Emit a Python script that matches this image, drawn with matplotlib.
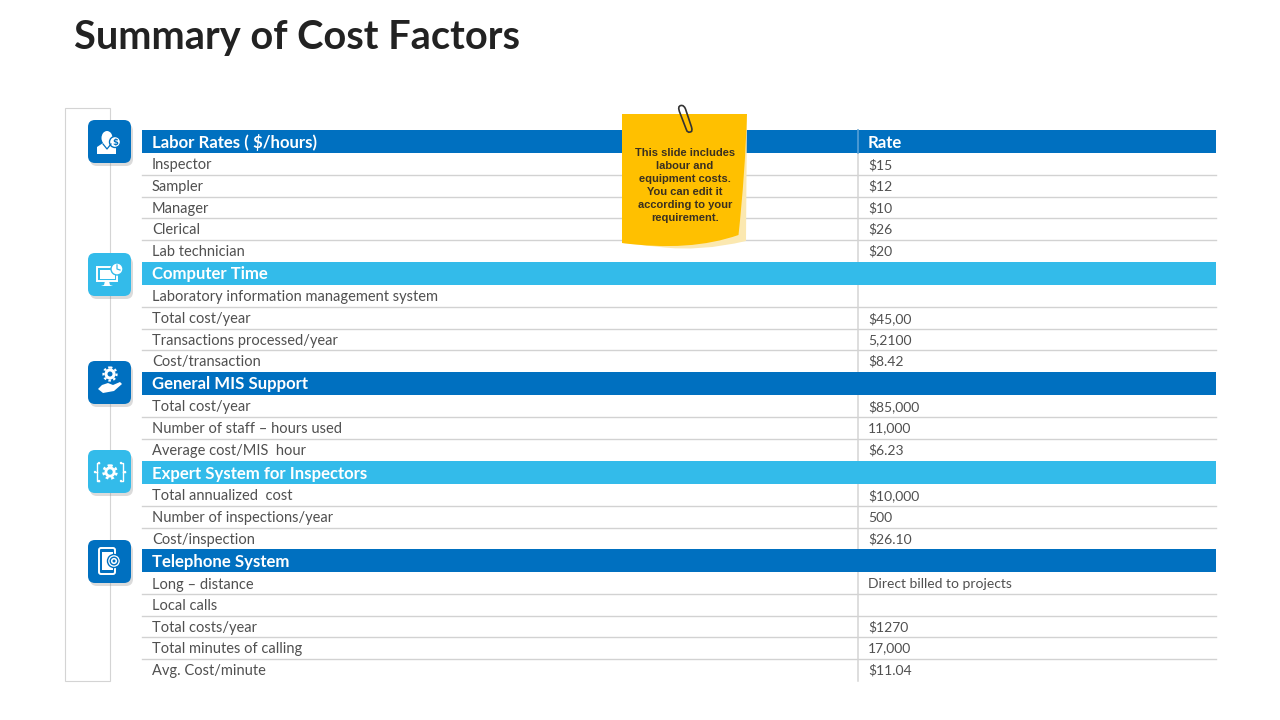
import matplotlib
matplotlib.use("Agg")
import matplotlib.pyplot as plt
from matplotlib.patches import FancyBboxPatch, Rectangle, Polygon, Circle, Ellipse, Wedge, PathPatch
from matplotlib.path import Path

title = "Summary of Cost Factors"
note = "This slide includes\nlabour and\nequipment costs.\nYou can edit it\naccording to your\nrequirement."

section_names = ["Labor Rates ( $/hours)", "Computer Time", "General MIS Support",
                 "Expert System for Inspectors", "Telephone System"]
labor_items = ["Inspector", "Sampler", "Manager", "Clerical", "Lab technician"]
labor_rates = ["$15", "$12", "$10", "$26", "$20"]
computer_items = ["Laboratory information management system", "Total cost/year",
                  "Transactions processed/year", "Cost/transaction"]
computer_rates = ["", "$45,00", "5,2100", "$8.42"]
mis_items = ["Total cost/year", "Number of staff \u2013 hours used", "Average cost/MIS  hour"]
mis_rates = ["$85,000", "11,000", "$6.23"]
expert_items = ["Total annualized  cost", "Number of inspections/year", "Cost/inspection"]
expert_rates = ["$10,000", "500", "$26.10"]
phone_items = ["Long \u2013 distance", "Local calls", "Total costs/year",
               "Total minutes of calling", "Avg. Cost/minute"]
phone_rates = ["Direct billed to projects", "", "$1270", "17,000", "$11.04"]

items = [labor_items, computer_items, mis_items, expert_items, phone_items]
rates = [labor_rates, computer_rates, mis_rates, expert_rates, phone_rates]

# layout, in pixels of the slide
header_tops = [130, 262, 372, 461, 549]
header_colors = ["#0070C0", "#33BBEA", "#0070C0", "#33BBEA", "#0070C0"]
icon_tops = [120, 253, 361, 450, 540]
HEADER_H = 23
ROW_H = 21.55
LEFT, DIV, RIGHT = 142, 858, 1216
TEXT_FONT = ["Lato", "DejaVu Sans"]

fig = plt.figure(figsize=(12.8, 7.2), dpi=100)
ax = fig.add_axes([0, 0, 1, 1])
ax.set_xlim(0, 1280)
ax.set_ylim(720, 0)
ax.axis("off")

ax.text(74, 38, title, fontsize=28.6, fontweight="bold", family=["Lato"], color="#222222",
        va="center", ha="left")

# frame behind the icons
ax.add_patch(Rectangle((65, 108), 44.5, 572.5, fc="white", ec="#D4D4D4", lw=0.8))

# table
for k, top in enumerate(header_tops):
    ax.add_patch(Rectangle((LEFT, top), RIGHT - LEFT, HEADER_H, fc=header_colors[k], ec="none", zorder=3))
    ax.text(152, top + 12.5, section_names[k], color="white", fontsize=12.1, fontweight="bold",
            family=TEXT_FONT, va="center", zorder=4)
    for i, (name, rate) in enumerate(zip(items[k], rates[k])):
        y = top + HEADER_H + ROW_H * i + 12.5
        ax.text(152, y, name, color="#505050", fontsize=10.5, family=TEXT_FONT, va="center", zorder=4)
        if rate:
            ax.text(868, y - 0.5, rate, color="#505050", fontsize=10, family=TEXT_FONT, va="center", zorder=4)
        if i < len(items[k]) - 1:
            ly = top + HEADER_H + ROW_H * (i + 1) + 0.5
            ax.plot([LEFT, RIGHT], [ly, ly], color="#D2D2D2", lw=1, zorder=2)

ax.plot([DIV, DIV], [130, 681], color="#D4D4D4", lw=1.1, zorder=2)
ax.plot([DIV, DIV], [130, 153], color="#5FA3D8", lw=1.1, zorder=4)
ax.text(868, 142.5, "Rate", color="white", fontsize=12.1, fontweight="bold", family=TEXT_FONT,
        va="center", zorder=4)

# icon tiles
for top, col in zip(icon_tops, header_colors):
    ax.add_patch(FancyBboxPatch((90, top + 4), 43, 42, boxstyle="round,pad=0,rounding_size=7",
                                fc="#8A8A8A", ec="none", alpha=0.3, zorder=5))
    ax.add_patch(FancyBboxPatch((88, top), 43, 43, boxstyle="round,pad=0,rounding_size=7",
                                fc=col, ec="none", zorder=6))


def w(p, z=7, **kw):
    kw.setdefault("fc", "white")
    kw.setdefault("ec", "none")
    p.set(**kw)
    p.set_zorder(z)
    ax.add_patch(p)


BLUE, SKY = "#0070C0", "#33BBEA"

# person with dollar badge
cx, cy = 106, 141
w(Ellipse((cx + 1, cy - 3), 11, 14))
w(Polygon([(cx - 9, cy + 13), (cx - 9, cy + 6), (cx - 3, cy + 2), (cx + 5, cy + 2), (cx + 10, cy + 6), (cx + 10, cy + 13)]))
ax.plot([cx - 3, cx + 1, cx + 5], [cy + 3, cy + 8, cy + 3], color=BLUE, lw=0.9, zorder=8)
w(Circle((cx + 9, cy + 1), 5.5), ec=BLUE, lw=1)
ax.text(cx + 9, cy + 1, "$", color=BLUE, fontsize=6, fontweight="bold", ha="center", va="center", zorder=8)

# monitor with clock
cx, cy = 108, 275
w(Rectangle((cx - 11, cy - 8), 20, 14), fc="none", ec="white", lw=1.4)
w(Rectangle((cx - 8.5, cy - 5.5), 15, 9))
w(Polygon([(cx - 3, cy + 6), (cx + 1, cy + 6), (cx + 2, cy + 10), (cx + 5, cy + 11), (cx - 7, cy + 11), (cx - 4, cy + 10)]))
w(Circle((cx + 9, cy - 6), 6), ec=SKY, lw=1)
ax.plot([cx + 9, cx + 9, cx + 12], [cy - 10, cy - 6, cy - 5], color=SKY, lw=0.9, zorder=8)

# gear in a hand
cx, cy = 110, 378
w(Wedge((cx, cy - 4), 5.5, 0, 360, width=3))
w(Circle((cx, cy - 4), 6.5), fc="none", ec="white", lw=1.6, ls=(0, (1.1, 1.1)))
w(Polygon([(cx - 12, cy + 11), (cx - 8, cy + 7), (cx - 2, cy + 5), (cx + 3, cy + 7), (cx + 10, cy + 4),
           (cx + 12, cy + 6), (cx + 4, cy + 13), (cx - 7, cy + 15)]))

# gear with brackets
cx, cy = 110, 472
w(Wedge((cx, cy), 5.5, 0, 360, width=2.8))
w(Circle((cx, cy), 6.5), fc="none", ec="white", lw=1.8, ls=(0, (1.1, 1.1)))
for sx in (-1, 1):
    ax.plot([cx + sx * 11, cx + sx * 13, cx + sx * 13, cx + sx * 11], [cy - 9, cy - 9, cy + 9, cy + 9],
            color="white", lw=1, zorder=7)
    ax.plot([cx + sx * 13, cx + sx * 15], [cy, cy], color="white", lw=1, zorder=7)
    for dy in (-9, 0, 9):
        w(Circle((cx + sx * (15 if dy == 0 else 11), cy + dy), 1.2))

# phone with target
cx, cy = 107, 561
w(FancyBboxPatch((cx - 8, cy - 13), 16, 26, boxstyle="round,pad=0,rounding_size=2"), fc="none", ec="white", lw=1.4)
w(Rectangle((cx - 5.5, cy - 9), 11, 18))
w(Circle((cx + 7, cy), 6.5), ec=BLUE, lw=1)
w(Circle((cx + 7, cy), 3.8), fc="none", ec=BLUE, lw=1)
w(Circle((cx + 7, cy), 1.5), fc=BLUE)

# sticky note, curl first then the yellow sheet
curl = Path([(730, 200), (747, 114), (746, 241), (700, 252), (660, 247), (622, 243), (730, 200)],
            [Path.MOVETO, Path.LINETO, Path.LINETO, Path.CURVE3, Path.CURVE3, Path.LINETO, Path.CLOSEPOLY])
w(PathPatch(curl), fc="#FBE8B0")
sheet = Path([(622, 114), (747, 114), (745, 175), (738.5, 235), (690, 252), (622, 243), (622, 114)],
             [Path.MOVETO, Path.LINETO, Path.CURVE3, Path.CURVE3, Path.CURVE3, Path.CURVE3, Path.CLOSEPOLY])
w(PathPatch(sheet), fc="#FFC000")
ax.text(685, 185.5, note, color="#3A3020", fontsize=8, fontweight="bold", family=["Liberation Sans"],
        ha="center", va="center", linespacing=1.36, zorder=8)

# paper clip
clip = Path([(686.5, 130), (680, 113), (677, 106), (681, 105.5), (684, 105), (685.5, 109),
             (691.5, 127), (693, 132), (690, 132), (687.5, 133), (686.5, 130)],
            [Path.MOVETO, Path.LINETO, Path.CURVE3, Path.CURVE3, Path.CURVE3, Path.CURVE3,
             Path.LINETO, Path.CURVE3, Path.CURVE3, Path.CURVE3, Path.CURVE3])
ax.add_patch(PathPatch(clip, fc="none", ec="#333333", lw=1.2, zorder=9))

fig.savefig("out.png", dpi=100)
